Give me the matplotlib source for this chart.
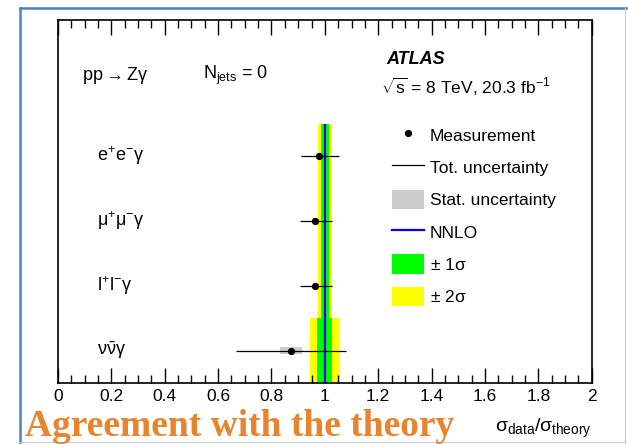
import numpy as np
import matplotlib.pyplot as plt
from matplotlib.lines import Line2D
from matplotlib.patches import Patch

plt.rcParams['font.family'] = ['Liberation Sans', 'DejaVu Sans']
plt.rcParams['mathtext.fontset'] = 'custom'
plt.rcParams['mathtext.rm'] = 'Liberation Sans'
plt.rcParams['mathtext.it'] = 'Liberation Sans'
plt.rcParams['mathtext.bf'] = 'Liberation Sans:bold'
plt.rcParams['mathtext.sf'] = 'Liberation Sans'

# channels, top to bottom
channels = [r'$\mathrm{e^{+}e^{-}\gamma}$', r'$\mathrm{\mu^{+}\mu^{-}\gamma}$',
            r'$\mathrm{l^{+}l^{-}\gamma}$', r'$\mathrm{\nu\bar{\nu}\gamma}$']
ratio = [0.978, 0.963, 0.964, 0.873]      # sigma_data / sigma_theory
tot_lo = [0.067, 0.057, 0.057, 0.206]     # total uncertainty, down
tot_hi = [0.074, 0.063, 0.064, 0.207]     # total uncertainty, up
stat = [0.010, 0.010, 0.008, 0.042]       # statistical uncertainty
nnlo = [1.0, 1.0, 1.0, 1.0]
band1 = [0.016, 0.016, 0.016, 0.028]      # +-1 sigma theory
band2 = [0.027, 0.027, 0.027, 0.056]      # +-2 sigma theory

ypos = np.arange(len(channels), 0, -1)

fig = plt.figure(figsize=(6.28, 4.44), dpi=100)
ax = fig.add_axes([0.0924, 0.1374, 0.8498, 0.8176])

for y, c, w1, w2 in zip(ypos, nnlo, band1, band2):
    ax.fill_betweenx([y - 0.5, y + 0.5], c - w2, c + w2, color='#ffff00', lw=0, zorder=1)
    ax.fill_betweenx([y - 0.5, y + 0.5], c - w1, c + w1, color='#00ff00', lw=0, zorder=2)
ax.vlines(nnlo, ypos - 0.5, ypos + 0.5, color='#0000ff', lw=1.6, zorder=3)

for y, r, s in zip(ypos, ratio, stat):
    ax.fill_between([r - s, r + s], y - 0.05, y + 0.05, color='#cccccc', lw=0, zorder=4)
ax.errorbar(ratio, ypos, xerr=[tot_lo, tot_hi], fmt='o', color='black', ms=4.2,
            elinewidth=0.9, capsize=0, zorder=5)

ax.set_xlim(0, 2)
ax.set_ylim(0.5, 6.1)
ax.set_xticks(np.arange(0, 2.01, 0.2))
ax.set_xticklabels(['0', '0.2', '0.4', '0.6', '0.8', '1', '1.2', '1.4', '1.6', '1.8', '2'])
ax.set_xticks(np.arange(0, 2.001, 0.05), minor=True)
ax.tick_params(axis='x', which='both', direction='in', top=True, labelsize=12.5, pad=4)
ax.tick_params(axis='x', which='major', length=11, width=1)
ax.tick_params(axis='x', which='minor', length=5.5, width=1)
ax.set_yticks([])
for sp in ax.spines.values():
    sp.set_linewidth(1.2)

# channel labels
for y, lab in zip(ypos, channels):
    ax.text(0.073, y, lab, transform=ax.get_yaxis_transform(), fontsize=13,
            va='center', ha='left')

ax.text(0.045, 0.848, r'pp$\rightarrow$Z$\gamma$', transform=ax.transAxes,
        fontsize=13, va='center')
ax.text(0.272, 0.848, r'N$_{\mathrm{jets}}$ = 0', transform=ax.transAxes,
        fontsize=13, va='center')
ax.text(0.6146, 0.890, 'ATLAS', transform=ax.transAxes, fontsize=13,
        fontweight='bold', fontstyle='italic', va='center')
ax.text(0.605, 0.816, r'$\sqrt{\mathrm{s}}$ = 8 TeV, 20.3 fb$^{-1}$',
        transform=ax.transAxes, fontsize=12.5, va='center')

handles = [Line2D([], [], marker='o', color='black', ls='none', ms=4.2),
           Line2D([], [], color='black', lw=0.9),
           Patch(facecolor='#cccccc', edgecolor='none'),
           Line2D([], [], color='#0000ff', lw=1.6),
           Patch(facecolor='#00ff00', edgecolor='none'),
           Patch(facecolor='#ffff00', edgecolor='none')]
labels = ['Measurement', 'Tot. uncertainty', 'Stat. uncertainty', 'NNLO',
          r'$\pm$ 1$\sigma$', r'$\pm$ 2$\sigma$']
fig.legend(handles, labels, loc='upper left', bbox_to_anchor=(0.6242, 0.7185),
           frameon=False, fontsize=12.5, handlelength=1.84, handleheight=1.38,
           handletextpad=0.35, labelspacing=0.72, borderpad=0, borderaxespad=0)

ax.text(1.0, -0.124, r'$\sigma_{\mathrm{data}}/\sigma_{\mathrm{theory}}$',
        transform=ax.transAxes, fontsize=14, ha='right', va='center')

# slide frame
fig.add_artist(Line2D([0.0318, 0.0318], [0, 0.982], color='#4f81bd', lw=1.8))
fig.add_artist(Line2D([0.0318, 1.0], [0.982, 0.982], color='#4f81bd', lw=1.8))
fig.add_artist(Line2D([0.995, 0.995], [0, 0.982], color='#c8ccd2', lw=0.8))
fig.add_artist(Line2D([0.0318, 0.995], [0.005, 0.005], color='#c8ccd2', lw=0.8))

fig.text(25 / 628, 0.018, 'Agreement with the theory', fontsize=27,
         family='Liberation Serif', fontweight='bold', color='#e8832e', va='baseline')

fig.savefig('out.png', dpi=100)
